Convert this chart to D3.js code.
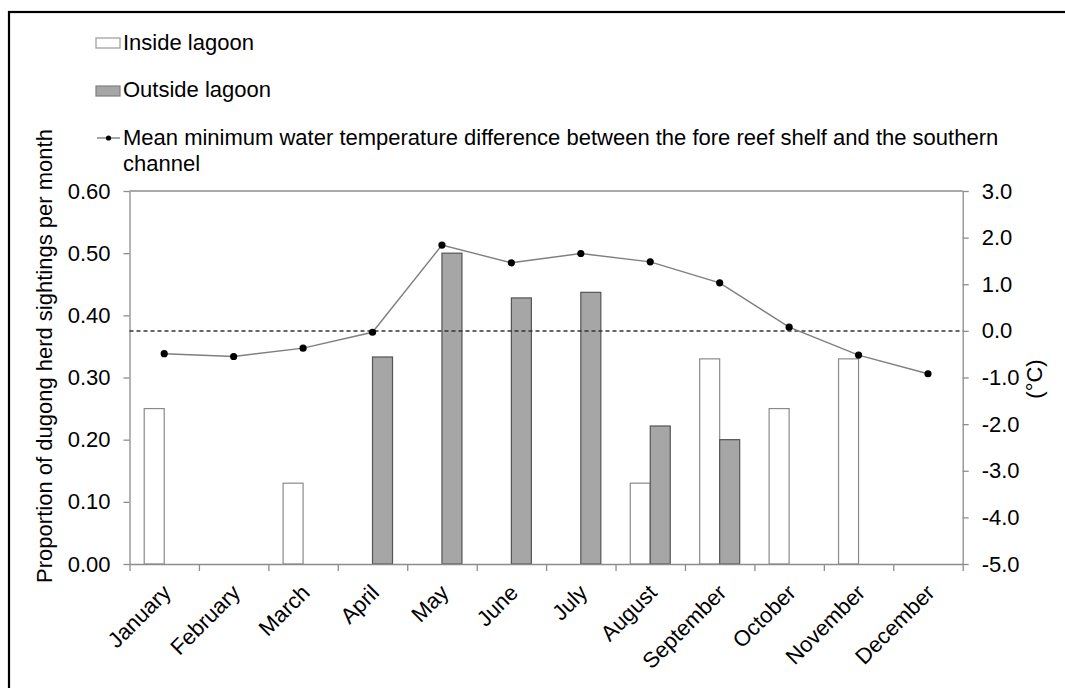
<!DOCTYPE html>
<html>
<head>
<meta charset="utf-8">
<script src="https://cdn.jsdelivr.net/npm/d3@7"></script>
<style>
  body { margin: 0; background: #fff; }
  svg text { font-family: "Liberation Sans", Arial, sans-serif; fill: #000; }
</style>
</head>
<body>
<div id="chart"></div>
<script>
// data
var months = ["January", "February", "March", "April", "May", "June", "July",
              "August", "September", "October", "November", "December"];
var insideLagoon  = [0.25, null, 0.13, null, null, null, null, 0.13, 0.33, 0.25, 0.33, null];
var outsideLagoon = [null, null, null, 0.333, 0.50, 0.428, 0.437, 0.222, 0.20, null, null, null];
var tempDiff = [-0.49, -0.55, -0.37, -0.03, 1.84, 1.46, 1.66, 1.48, 1.03, 0.08, -0.52, -0.92];
var leftTicks = [0, 0.1, 0.2, 0.3, 0.4, 0.5, 0.6];
var rightTicks = [-5, -4, -3, -2, -1, 0, 1, 2, 3];
var legendLabels = ["Inside lagoon", "Outside lagoon",
  "Mean minimum water temperature difference between the fore reef shelf and the southern",
  "channel"];

var W = 1065, H = 688;
// plot area edges (don't call these top/left: window.top is read-only)
var pLeft = 129.5, pRight = 962.7, pTop = 191, pBottom = 564;
var FONT = 22;
var AXIS_COL = "#8c8c8c";

var svg = d3.select("#chart")
  .append("svg")
  .attr("width", W)
  .attr("height", H);

// outer frame
svg.append("rect")
  .attr("x", 9).attr("y", 12)
  .attr("width", W).attr("height", H)
  .attr("fill", "none")
  .attr("stroke", "#000")
  .attr("stroke-width", 2.2);

var x = d3.scaleBand()
  .domain(months)
  .range([pLeft, pRight]);

// boundaries of the categories, for the tick marks
var xb = d3.scaleLinear()
  .domain([0, months.length])
  .range([pLeft, pRight]);

var y = d3.scaleLinear()
  .domain([0, 0.6])
  .range([pBottom, pTop]);

var yR = d3.scaleLinear()
  .domain([-5, 3])
  .range([pBottom, pTop]);

var BAR_W = 20;

// bars
svg.append("g")
  .selectAll("rect")
  .data(months.map(function(m, i) { return {m: m, v: insideLagoon[i]}; })
    .filter(function(d) { return d.v != null; }))
  .enter().append("rect")
  .attr("x", function(d) { return x(d.m) + x.bandwidth() / 2 - BAR_W; })
  .attr("y", function(d) { return y(d.v); })
  .attr("width", BAR_W)
  .attr("height", function(d) { return y(0) - y(d.v); })
  .attr("fill", "#fff")
  .attr("stroke", "#8a8a8a")
  .attr("stroke-width", 1.2);

svg.append("g")
  .selectAll("rect")
  .data(months.map(function(m, i) { return {m: m, v: outsideLagoon[i]}; })
    .filter(function(d) { return d.v != null; }))
  .enter().append("rect")
  .attr("x", function(d) { return x(d.m) + x.bandwidth() / 2; })
  .attr("y", function(d) { return y(d.v); })
  .attr("width", BAR_W)
  .attr("height", function(d) { return y(0) - y(d.v); })
  .attr("fill", "#a6a6a6")
  .attr("stroke", "#555")
  .attr("stroke-width", 1.2);

// top border of plot area
svg.append("line")
  .attr("x1", pLeft).attr("x2", pRight)
  .attr("y1", pTop).attr("y2", pTop)
  .attr("stroke", AXIS_COL)
  .attr("stroke-width", 1.3);

// plain hyphen for negatives, like the original
function fmt(spec) {
  var f = d3.format(spec);
  return function(d) { return f(d).replace("\u2212", "-"); };
}

// left axis
var gl = svg.append("g")
  .attr("transform", "translate(" + pLeft + ",0)")
  .call(d3.axisLeft(y).tickValues(leftTicks).tickFormat(fmt(".2f"))
    .tickSize(6).tickSizeOuter(0).tickPadding(13));

// right axis
var gr = svg.append("g")
  .attr("transform", "translate(" + pRight + ",0)")
  .call(d3.axisRight(yR).tickValues(rightTicks).tickFormat(fmt(".1f"))
    .tickSize(6).tickSizeOuter(0).tickPadding(13));

// bottom axis (tick marks between months)
var gb = svg.append("g")
  .attr("transform", "translate(0," + pBottom + ")")
  .call(d3.axisBottom(xb).tickValues(d3.range(months.length + 1)).tickFormat("")
    .tickSize(7).tickSizeOuter(0));

[gl, gr, gb].forEach(function(g) {
  g.selectAll("path, line").attr("stroke", AXIS_COL).attr("stroke-width", 1.3);
  g.selectAll("text")
    .style("font-size", FONT + "px")
    .attr("fill", "#000");
});

// month labels
svg.append("g")
  .selectAll("text")
  .data(months)
  .enter().append("text")
  .attr("transform", function(d) {
    return "translate(" + (x(d) + x.bandwidth() / 2 + 8) + "," + 594 + ") rotate(-45)";
  })
  .attr("text-anchor", "end")
  .style("font-size", FONT + "px")
  .text(function(d) { return d; });

// zero reference line
svg.append("line")
  .attr("x1", pLeft).attr("x2", pRight)
  .attr("y1", yR(0)).attr("y2", yR(0))
  .attr("stroke", "#333")
  .attr("stroke-width", 1.5)
  .attr("stroke-dasharray", "4,3");

// temperature line
var line = d3.line()
  .x(function(d, i) { return x(months[i]) + x.bandwidth() / 2; })
  .y(function(d) { return yR(d); });

svg.append("path")
  .datum(tempDiff)
  .attr("fill", "none")
  .attr("stroke", "#7f7f7f")
  .attr("stroke-width", 1.4)
  .attr("d", line);

svg.append("g")
  .selectAll("circle")
  .data(tempDiff)
  .enter().append("circle")
  .attr("cx", function(d, i) { return x(months[i]) + x.bandwidth() / 2; })
  .attr("cy", function(d) { return yR(d); })
  .attr("r", 3.6)
  .attr("fill", "#000");

// axis titles
svg.append("text")
  .attr("transform", "translate(52,356) rotate(-90)")
  .attr("text-anchor", "middle")
  .style("font-size", FONT + "px")
  .text("Proportion of dugong herd sightings per month");

svg.append("text")
  .attr("transform", "translate(1042,379) rotate(-90)")
  .attr("text-anchor", "middle")
  .style("font-size", FONT + "px")
  .text("(°C)");

// legend
var lg = svg.append("g");
lg.append("rect")
  .attr("x", 96).attr("y", 38).attr("width", 24).attr("height", 10)
  .attr("fill", "#fff").attr("stroke", "#9a9a9a").attr("stroke-width", 1.2);
lg.append("rect")
  .attr("x", 96).attr("y", 86).attr("width", 24).attr("height", 10)
  .attr("fill", "#a6a6a6").attr("stroke", "#808080").attr("stroke-width", 1.2);
lg.append("line")
  .attr("x1", 97).attr("x2", 120).attr("y1", 138).attr("y2", 138)
  .attr("stroke", "#7f7f7f").attr("stroke-width", 1.4);
lg.append("circle")
  .attr("cx", 108.5).attr("cy", 138).attr("r", 2.6).attr("fill", "#000");

var legendBase = [50, 97, 145, 171];
lg.selectAll("text")
  .data(legendLabels)
  .enter().append("text")
  .attr("x", 123)
  .attr("y", function(d, i) { return legendBase[i]; })
  .style("font-size", FONT + "px")
  .text(function(d) { return d; });
</script>
</body>
</html>
